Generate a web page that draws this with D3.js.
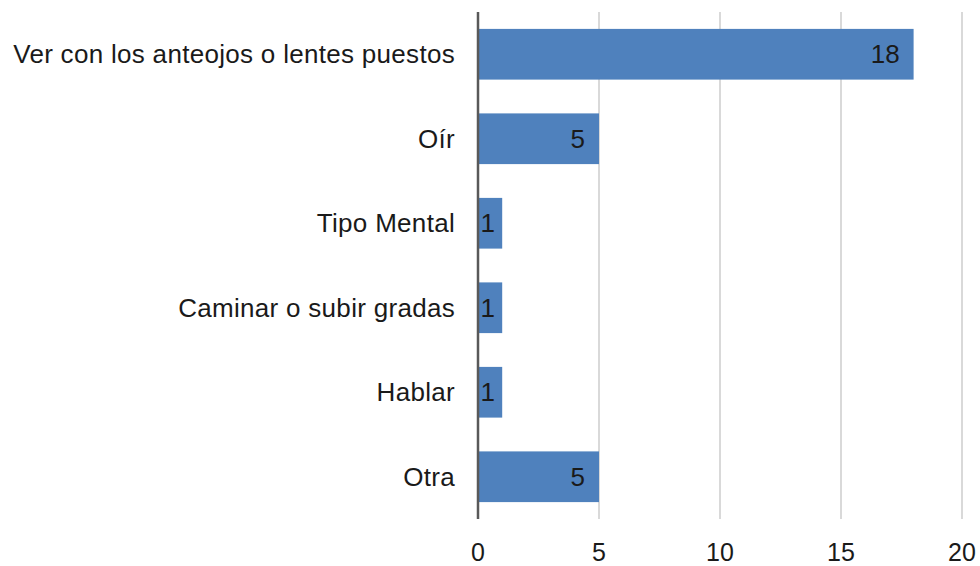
<!DOCTYPE html>
<html>
<head>
	<meta charset="utf-8">
	<title>Chart</title>
	<script src="https://d3js.org/d3.v7.min.js" charset="utf-8"></script>
	<style>
		body { margin: 0; background: #fff; }
		svg { display: block; font-family: "Liberation Sans", Arial, sans-serif; }
	</style>
</head>
<body>
	<script>
		// DATA
		var categories = ["Ver con los anteojos o lentes puestos", "Oír", "Tipo Mental",
			"Caminar o subir gradas", "Hablar", "Otra"];
		var values = [18, 5, 1, 1, 1, 5];
		var ticks = [0, 5, 10, 15, 20];

		// SET UP SVG
		var width = 980,
			height = 566;
		var margin = {top: 12, right: 18, bottom: 47, left: 478};

		var svg = d3.select("body").append("svg")
			.attr("width", width)
			.attr("height", height);

		var x = d3.scaleLinear().domain([0, 20]).range([margin.left, width - margin.right]);
		var y = d3.scaleBand().domain(categories)
			.range([margin.top, height - margin.bottom])
			.paddingInner(0.4).paddingOuter(0.2);

		// gridlines
		svg.append("g").selectAll("line").data(ticks.slice(1)).enter().append("line")
			.attr("x1", function(d){ return x(d); }).attr("x2", function(d){ return x(d); })
			.attr("y1", margin.top).attr("y2", height - margin.bottom)
			.attr("stroke", "#d9d9d9").attr("stroke-width", 2);

		// bars
		svg.append("g").selectAll("rect").data(values).enter().append("rect")
			.attr("x", x(0))
			.attr("y", function(d, i){ return y(categories[i]); })
			.attr("width", function(d){ return x(d) - x(0); })
			.attr("height", y.bandwidth())
			.attr("fill", "#4f81bd");

		// value labels (inside end, pushed right when the bar is too short)
		svg.append("g").selectAll("text").data(values).enter().append("text")
			.attr("x", function(d){ return Math.max(x(d) - 14, x(0) + 17); })
			.attr("y", function(d, i){ return y(categories[i]) + y.bandwidth() / 2; })
			.attr("dy", "0.35em")
			.attr("text-anchor", "end")
			.attr("font-size", 26)
			.attr("fill", "#1a1a1a")
			.text(function(d){ return d; });

		// axis line
		svg.append("line")
			.attr("x1", x(0)).attr("x2", x(0))
			.attr("y1", margin.top).attr("y2", height - margin.bottom)
			.attr("stroke", "#595959").attr("stroke-width", 2.5);

		// category labels
		svg.append("g").selectAll("text").data(categories).enter().append("text")
			.attr("x", x(0) - 23)
			.attr("y", function(d){ return y(d) + y.bandwidth() / 2; })
			.attr("dy", "0.35em")
			.attr("text-anchor", "end")
			.attr("font-size", 26)
			.attr("letter-spacing", 0.3)
			.attr("fill", "#1a1a1a")
			.text(function(d){ return d; });

		// tick labels
		svg.append("g").selectAll("text").data(ticks).enter().append("text")
			.attr("x", function(d){ return x(d); })
			.attr("y", 561)
			.attr("text-anchor", "middle")
			.attr("font-size", 25)
			.attr("fill", "#1a1a1a")
			.text(function(d){ return d; });
	</script>
</body>
</html>
